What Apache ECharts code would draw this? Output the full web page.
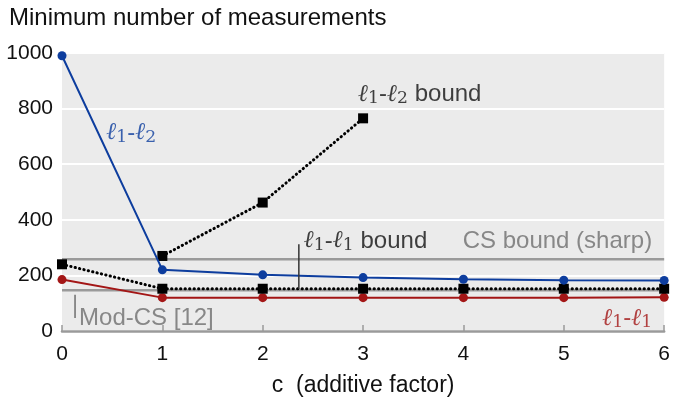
<!DOCTYPE html>
<html><head><meta charset="utf-8">
<script src="https://cdn.jsdelivr.net/npm/echarts@6/dist/echarts.min.js"></script>
<style>html,body{margin:0;padding:0;background:#fff}#c{width:673px;height:402px}</style>
</head><body><div id="c"></div>
<script>
const cValues = [0, 1, 2, 3, 4, 5, 6];
const l1l2 = [990, 220, 202, 192, 186, 183, 182];
const l1l1 = [185, 120, 120, 120, 120, 120, 121];
const l1l1Bound = [240, 152, 152, 152, 152, 152, 152];
const l1l2Bound = [null, 270, 462, 765];
const csBoundSharp = 258;
const modCS = 147;
const yTicks = [0, 200, 400, 600, 800, 1000];

const FONT = '"Liberation Sans", Arial, sans-serif';
const SERIF = '"DejaVu Serif", serif';
const BLUE = '#0d3d9e', RED = '#a31616', GRAY = '#9a9a9a', TGRAY = '#6e6e6e';

function pairs(xs, ys){ return xs.map((x,i)=>[x, ys[i]]).filter(p=>p[1]!=null); }
function mathRich(color, size){
  return {
    e: {fontFamily: SERIF, fontStyle:'italic', fontSize: size, color},
    s: {fontFamily: SERIF, fontSize: size*0.72, color, padding:[size*0.35,0,0,0]},
    d: {fontFamily: FONT, fontSize: size, color},
    t: {fontFamily: FONT, fontSize: size, color}
  };
}
function annot(x, y, text, color, align, rich){
  return {type:'scatter', data:[[x,y]], symbolSize:0, silent:true, z:10,
    label:{show:true, position:'inside', align, verticalAlign:'middle', formatter:text, color, fontFamily:FONT, fontSize:24, rich}};
}
const DOTS = {color:'#000', width:3, type:[0.3,4.2], cap:'round'};
const chart = echarts.init(document.getElementById('c'), null, {renderer:'canvas'});
chart.setOption({
  animation:false,
  title:{text:'Minimum number of measurements', left:4, top:1, textStyle:{fontFamily:FONT, fontWeight:'normal', fontSize:24, color:'#111'}},
  grid:{left:62, right:3, top:53, bottom:71, show:true, backgroundColor:'#ebebeb', borderWidth:0},
  xAxis:{type:'value', min:0, max:6, interval:1,
    name:'c  (additive factor)', nameLocation:'middle', nameGap:43,
    nameTextStyle:{fontFamily:FONT, fontSize:23, color:'#111'},
    axisLine:{show:true, onZero:false, lineStyle:{color:GRAY, width:2.5}},
    axisTick:{show:true, inside:true, length:6, lineStyle:{color:GRAY, width:1.5}},
    axisLabel:{fontFamily:FONT, fontSize:21, color:'#111', margin:13},
    splitLine:{show:false}},
  yAxis:{type:'value', min:yTicks[0], max:yTicks[yTicks.length-1], interval:200,
    axisLine:{show:false}, axisTick:{show:false},
    axisLabel:{fontFamily:FONT, fontSize:21, color:'#111', margin:9, formatter:v=>String(v)},
    splitLine:{show:true, lineStyle:{color:'#ffffff', width:2}}},
  series:[
    {type:'line', data:[[0,csBoundSharp],[6,csBoundSharp]], symbol:'none', lineStyle:{color:GRAY, width:2.5}, z:2},
    {type:'line', data:[[0,modCS],[6,modCS]], symbol:'none', lineStyle:{color:GRAY, width:2.5}, z:2},
    {type:'line', data:pairs(cValues,l1l1), symbol:'circle', symbolSize:9, itemStyle:{color:RED}, lineStyle:{color:RED, width:2}, z:3},
    {type:'line', data:pairs(cValues,l1l1Bound), symbol:'rect', symbolSize:10, itemStyle:{color:'#000'}, lineStyle:DOTS, z:4},
    {type:'line', data:pairs(cValues,l1l2Bound), symbol:'rect', symbolSize:10, itemStyle:{color:'#000'}, lineStyle:DOTS, z:4},
    {type:'line', data:pairs(cValues,l1l2), symbol:'circle', symbolSize:9, itemStyle:{color:BLUE}, lineStyle:{color:BLUE, width:2}, z:5},
    {type:'line', data:[[2.36,151],[2.36,312]], symbol:'none', lineStyle:{color:'#333', width:1.5}, z:6},
    {type:'line', data:[[0.13,130],[0.13,47]], symbol:'none', lineStyle:{color:TGRAY, width:1.5}, z:6},
    annot(0.44, 712, '{e|ℓ}{s|1}{d|-}{e|ℓ}{s|2}', BLUE, 'left', mathRich(BLUE,24)),
    annot(2.95, 850, '{e|ℓ}{s|1}{d|-}{e|ℓ}{s|2}{t| bound}', '#111', 'left', mathRich('#111',24)),
    annot(2.41, 324, '{e|ℓ}{s|1}{d|-}{e|ℓ}{s|1}{t| bound}', '#111', 'left', mathRich('#111',24)),
    annot(5.88, 322, 'CS bound (sharp)', TGRAY, 'right', mathRich(TGRAY,24)),
    annot(5.88, 45, '{e|ℓ}{s|1}{d|-}{e|ℓ}{s|1}', RED, 'right', mathRich(RED,24)),
    annot(0.17, 45, 'Mod-CS [12]', TGRAY, 'left', mathRich(TGRAY,24))
  ]
});
</script></body></html>
